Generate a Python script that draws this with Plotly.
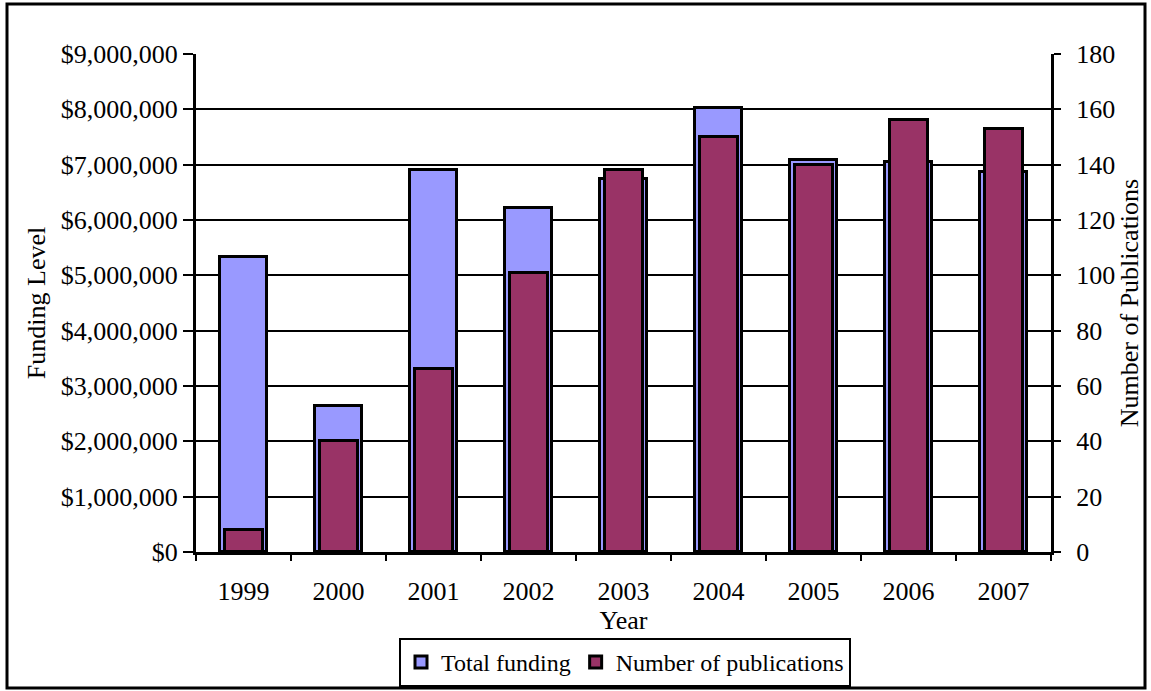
import plotly.graph_objects as go

# Annual funding and publication output
years = ["1999", "2000", "2001", "2002", "2003", "2004", "2005", "2006", "2007"]
total_funding = [5340000, 2645000, 6905000, 6225000, 6743000, 8020000, 7086000, 7040000, 6875000]
publications = [8, 40, 66, 101, 138, 150, 140, 156, 153]

funding_ticks = list(range(0, 9000001, 1000000))
pub_ticks = list(range(0, 181, 20))

FONT = "Liberation Serif, Times New Roman, serif"
W, H = 1151, 691
ML, MR, MT, MB = 196, 100, 54, 139
PW, PH = W - ML - MR, H - MT - MB


def px_x(x):
    return (x - ML) / PW


def px_y(y):
    return (H - MB - y) / PH


fig = go.Figure()
fig.add_trace(go.Bar(
    x=years, y=total_funding, name="Total funding", yaxis="y",
    width=0.5, marker=dict(color="#9999FF", line=dict(color="black", width=3)),
))
fig.add_trace(go.Bar(
    x=years, y=publications, name="Number of publications", yaxis="y2",
    width=0.4, marker=dict(color="#993366", line=dict(color="black", width=3)),
))

fig.update_layout(
    width=W, height=H,
    margin=dict(l=ML, r=MR, t=MT, b=MB, autoexpand=False),
    paper_bgcolor="white", plot_bgcolor="white",
    font=dict(family=FONT, size=26, color="black"),
    barmode="overlay",
    bargap=0,
    xaxis=dict(
        type="category",
        showline=True, linecolor="black", linewidth=3,
        ticks="outside", tickson="boundaries", ticklen=6, tickwidth=2, tickcolor="black",
        ticklabelstandoff=14,
        showgrid=False,
        title=dict(text="Year", standoff=2, font=dict(size=26)),
        automargin=False,
    ),
    yaxis=dict(
        range=[0, 9000000], tickvals=funding_ticks, tickformat="$,.0f",
        showline=True, linecolor="black", linewidth=3,
        ticks="outside", ticklen=10, tickwidth=2, tickcolor="black",
        showgrid=True, gridcolor="black", gridwidth=2, zeroline=False,
        title=dict(text="Funding Level", standoff=8, font=dict(size=26)),
        automargin=False,
    ),
    yaxis2=dict(
        range=[0, 180], tickvals=pub_ticks, overlaying="y", side="right",
        showline=True, linecolor="black", linewidth=3,
        ticks="outside", ticklen=7, tickwidth=2, tickcolor="black",
        ticklabelstandoff=10,
        showgrid=False, zeroline=False,
        title=dict(text="Number of Publications", standoff=4, font=dict(size=26)),
        automargin=False,
    ),
    legend=dict(
        orientation="h", x=px_x(625), xanchor="center", y=px_y(638), yanchor="top",
        bordercolor="black", borderwidth=2, bgcolor="white",
        font=dict(family=FONT, size=24), itemwidth=30, traceorder="normal",
    ),
    showlegend=True,
    shapes=[dict(
        type="rect", xref="paper", yref="paper",
        x0=px_x(7), x1=px_x(1145), y0=px_y(688), y1=px_y(4),
        line=dict(color="black", width=3), fillcolor="rgba(0,0,0,0)", layer="below",
    )],
)

fig.write_html("out.html")
